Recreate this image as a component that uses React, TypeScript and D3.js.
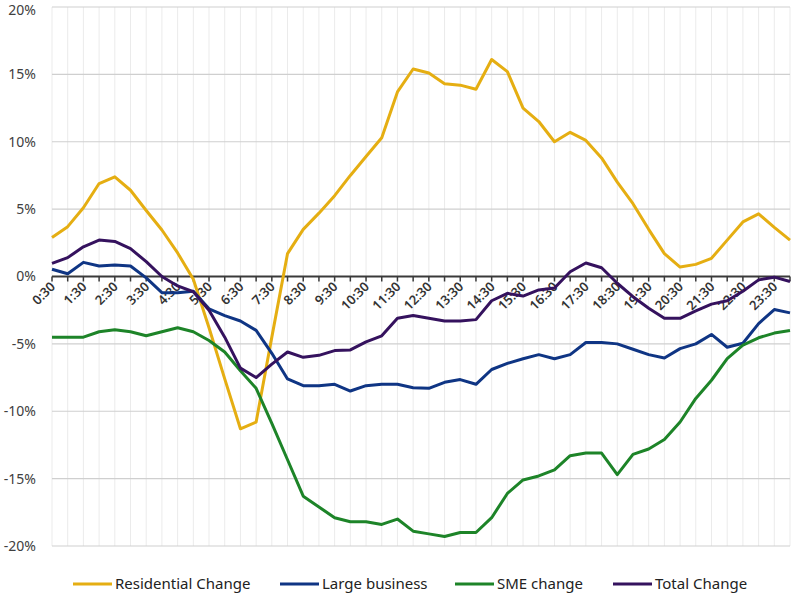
import React from "react";
import * as d3 from "d3";

const times = [
  "0:30", "1:00", "1:30", "2:00", "2:30", "3:00", "3:30", "4:00", "4:30", "5:00",
  "5:30", "6:00", "6:30", "7:00", "7:30", "8:00", "8:30", "9:00", "9:30", "10:00",
  "10:30", "11:00", "11:30", "12:00", "12:30", "13:00", "13:30", "14:00", "14:30", "15:00",
  "15:30", "16:00", "16:30", "17:00", "17:30", "18:00", "18:30", "19:00", "19:30", "20:00",
  "20:30", "21:00", "21:30", "22:00", "22:30", "23:00", "23:30", "24:00",
];

const residential = [
  2.9, 3.7, 5.1, 6.9, 7.4, 6.4, 4.9, 3.45, 1.75, -0.2,
  -3.8, -7.6, -11.3, -10.8, -4.5, 1.7, 3.5, 4.7, 6.0, 7.5,
  8.9, 10.3, 13.7, 15.4, 15.1, 14.3, 14.2, 13.9, 16.1, 15.2,
  12.5, 11.5, 10.0, 10.7, 10.1, 8.8, 7.0, 5.4, 3.5, 1.7,
  0.7, 0.9, 1.35, 2.7, 4.05, 4.65, 3.65, 2.7,
];

const largeBusiness = [
  0.54, 0.2, 1.05, 0.78, 0.85, 0.78, -0.1, -1.2, -1.2, -1.1,
  -2.4, -2.9, -3.3, -4.0, -5.7, -7.6, -8.1, -8.1, -8.0, -8.5,
  -8.1, -8.0, -8.0, -8.25, -8.3, -7.85, -7.65, -8.0, -6.9, -6.45,
  -6.1, -5.8, -6.1, -5.8, -4.9, -4.9, -5.0, -5.4, -5.8, -6.05,
  -5.35, -5.0, -4.3, -5.25, -4.95, -3.5, -2.45, -2.7,
];

const sme = [
  -4.5, -4.5, -4.5, -4.1, -3.95, -4.1, -4.4, -4.1, -3.8, -4.1,
  -4.75, -5.6, -7.0, -8.3, -10.9, -13.6, -16.3, -17.1, -17.9, -18.2,
  -18.2, -18.4, -18.0, -18.9, -19.1, -19.3, -19.0, -19.0, -17.9, -16.1,
  -15.1, -14.8, -14.35, -13.3, -13.1, -13.1, -14.7, -13.2, -12.8, -12.1,
  -10.8, -9.05, -7.7, -6.1, -5.1, -4.55, -4.2, -4.0,
];

const total = [
  0.98, 1.4, 2.2, 2.7, 2.6, 2.07, 1.1, 0.0, -0.7, -1.13,
  -2.5, -4.5, -6.8, -7.5, -6.5, -5.6, -6.0, -5.85, -5.5, -5.45,
  -4.85, -4.4, -3.1, -2.9, -3.1, -3.3, -3.3, -3.2, -1.8, -1.25,
  -1.45, -1.0, -0.85, 0.35, 1.0, 0.65, -0.5, -1.5, -2.35, -3.1,
  -3.1, -2.55, -2.05, -1.8, -1.1, -0.25, -0.05, -0.37,
];

const yTicks = [20, 15, 10, 5, 0, -5, -10, -15, -20];

const series = [
  { name: "Residential Change", values: residential, color: "#E5AE12" },
  { name: "Large business", values: largeBusiness, color: "#0F3584" },
  { name: "SME change", values: sme, color: "#1D8428" },
  { name: "Total Change", values: total, color: "#35125E" },
];

const W = 794;
const H = 593;
const left = 52;
const right = 790;
const top = 7;
const bottom = 546;
const font = "'Noto Sans', 'Open Sans', sans-serif";

export default function App() {
  const x = d3.scalePoint<string>().domain(times).range([left, right]);
  const y = d3.scaleLinear().domain([-20, 20]).range([bottom, top]);

  const line = d3
    .line<number>()
    .x((_, i) => x(times[i])!)
    .y((d) => y(d));

  const legendX = [73, 280, 455, 613];

  return (
    <svg
      width={W}
      height={H}
      style={{ position: "absolute", left: 0, top: 0, background: "#fff" }}
      fontFamily={font}
    >
      {/* vertical grid */}
      {times.map((t) => (
        <line key={t} x1={x(t)} x2={x(t)} y1={top} y2={bottom} stroke="#ebebeb" strokeWidth={1} />
      ))}
      {/* horizontal grid + y labels */}
      {yTicks.map((v) => (
        <g key={v}>
          {v !== 0 && (
            <line x1={left} x2={right} y1={y(v)} y2={y(v)} stroke="#cfcfcf" strokeWidth={1.2} />
          )}
          <text
            x={36}
            y={Math.max(y(v), 10)}
            dy="0.35em"
            textAnchor="end"
            fontSize={14}
            fill="#404040"
          >
            {v}%
          </text>
        </g>
      ))}
      {/* zero axis with ticks */}
      <line x1={left} x2={right} y1={y(0)} y2={y(0)} stroke="#3a3a3a" strokeWidth={2} />
      {times.map((t) => (
        <line key={t} x1={x(t)} x2={x(t)} y1={y(0)} y2={y(0) + 5} stroke="#3a3a3a" strokeWidth={1.5} />
      ))}
      {times.map((t, i) =>
        i % 2 === 0 ? (
          <text
            key={t}
            transform={`translate(${x(t)! + 4},${y(0) + 11}) rotate(-45)`}
            textAnchor="end"
            fontSize={13}
            fontWeight={600}
            fill="#333"
          >
            {t}
          </text>
        ) : null
      )}
      {/* series */}
      {series.map((s) => (
        <path
          key={s.name}
          d={line(s.values)!}
          fill="none"
          stroke={s.color}
          strokeWidth={3}
          strokeLinejoin="round"
        />
      ))}
      {/* legend */}
      {series.map((s, i) => (
        <g key={s.name}>
          <line
            x1={legendX[i]}
            x2={legendX[i] + 39}
            y1={584}
            y2={584}
            stroke={s.color}
            strokeWidth={3}
          />
          <text x={legendX[i] + 42} y={584} dy="0.35em" fontSize={15} fill="#222">
            {s.name}
          </text>
        </g>
      ))}
    </svg>
  );
}
